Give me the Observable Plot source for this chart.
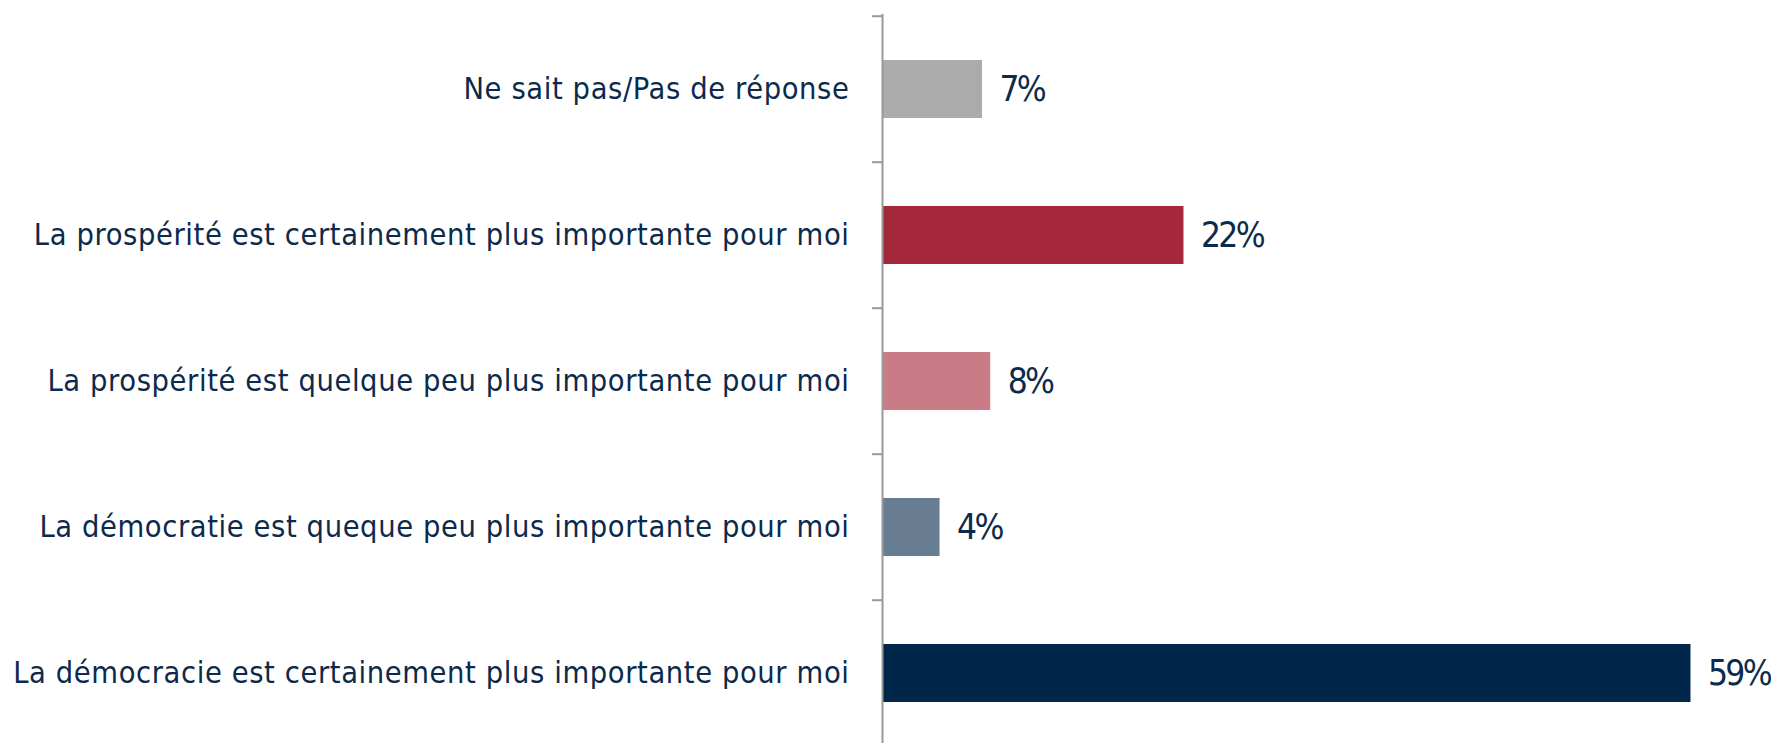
<!DOCTYPE html>
<html>
<head>
<meta charset="utf-8">
<script src="https://cdn.jsdelivr.net/npm/d3@7"></script>
<script src="https://cdn.jsdelivr.net/npm/@observablehq/plot@0.6"></script>
<style>
  html, body { margin: 0; padding: 0; background: #ffffff; overflow: hidden; }
  #chart svg { display: block; }
</style>
</head>
<body>
<div id="chart"></div>
<script>
// Data
const categories = [
  "Ne sait pas/Pas de réponse",
  "La prospérité est certainement plus importante pour moi",
  "La prospérité est quelque peu plus importante pour moi",
  "La démocratie est queque peu plus importante pour moi",
  "La démocracie est certainement plus importante pour moi"
];
const values = [7.3, 22, 7.9, 4.2, 59];
const barColors = ["#ababab", "#a4273a", "#c97b86", "#687d92", "#00274a"];

const data = categories.map((c, i) => ({category: c, value: values[i]}));

const W = 1771, H = 743;
const marginTop = 14, marginBottom = -4, marginLeft = 882, marginRight = 12;
const step = (H - marginTop - marginBottom) / categories.length;
const textColor = "#0c2a4c";
const axisColor = "#999999";
const catFont = 30.5, valFont = 35;

const chart = Plot.plot({
  width: W,
  height: H,
  marginTop, marginBottom, marginLeft, marginRight,
  style: {background: "#ffffff", overflow: "hidden"},
  x: {domain: [0, 64], axis: null},
  y: {domain: categories, padding: 0, axis: null},
  color: {domain: categories, range: barColors},
  marks: [
    Plot.barX(data, {
      x: "value", y: "category", fill: "category",
      insetTop: 44, insetBottom: 44
    }),
    Plot.ruleX([0], {stroke: axisColor, strokeWidth: 2}),
    Plot.axisY({
      anchor: "left", label: null, tickSize: 10, tickFormat: () => "",
      stroke: axisColor, strokeWidth: 2, dy: -step / 2
    }),
    Plot.text(data, {
      y: "category", text: "category", frameAnchor: "left",
      textAnchor: "end", dx: -33,
      fill: textColor, fontSize: catFont, fontFamily: "DejaVu Sans Condensed"
    }),
    Plot.text(data, {
      x: "value", y: "category", text: d => Math.round(d.value) + "%",
      textAnchor: "start", dx: 17,
      fill: textColor, fontSize: valFont, fontFamily: "DejaVu Sans Condensed"
    })
  ]
});

// fine-tune glyph spacing to match the reference typeface widths
d3.select(chart).selectAll("g").each(function() {
  const fs = this.getAttribute("font-size");
  if (fs === String(catFont)) d3.select(this).style("letter-spacing", "0.6px");
  if (fs === String(valFont)) d3.select(this).style("letter-spacing", "-2.7px");
});

document.getElementById("chart").appendChild(chart);
</script>
</body>
</html>
